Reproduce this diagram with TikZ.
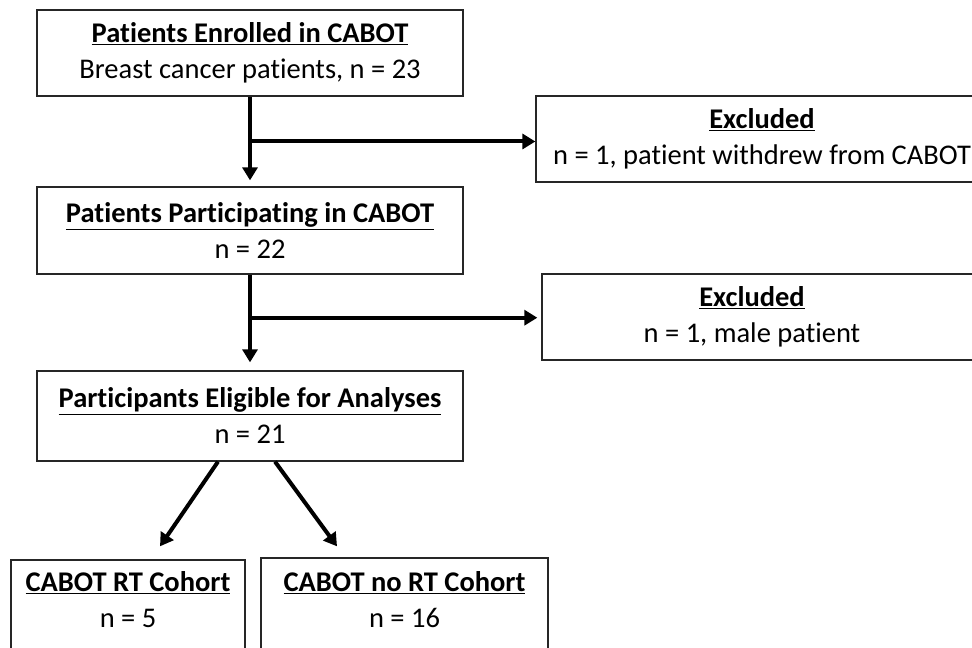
\documentclass[tikz,border=0pt]{standalone}
\usepackage{fontspec}
\setmainfont{Carlito}[Ligatures=NoCommon]
\usepackage{tikz}
\usetikzlibrary{arrows.meta, calc}
\definecolor{boxbd}{HTML}{262626}
\definecolor{flowink}{HTML}{000000}
\tikzset{
  cbox/.style={draw=boxbd, fill=white, line width=1.3pt, align=center, inner sep=0pt,
    font=\fontsize{28.5}{36}\selectfont, text=black},
  flow/.style={-{Triangle[length=13pt, width=15pt]}, draw=flowink, line width=4pt}
}
\newcommand{\boxhead}[1]{\textbf{\underline{#1}}}

\begin{document}
\begin{tikzpicture}[x=1pt, y=1pt]
\useasboundingbox (0,0) rectangle (972,648);
\clip (0,0) rectangle (972,648);
\node[cbox, minimum width=426pt, minimum height=86pt] (enrol) at (250,595) {\boxhead{Patients Enrolled in CABOT}\\Breast cancer patients, n = 23};
\node[cbox, minimum width=452pt, minimum height=86pt] (excl1) at (762,509) {\boxhead{Excluded}\\n = 1, patient withdrew from CABOT};
\node[cbox, minimum width=426pt, minimum height=87pt] (part) at (250,417.5) {\boxhead{Patients Participating in CABOT}\\n = 22};
\node[cbox, minimum width=452pt, minimum height=86pt] (excl2) at (768,331) {\boxhead{Excluded}\hspace*{32pt}\\n = 1, male patient\hspace*{32pt}};
\node[cbox, minimum width=426pt, minimum height=90pt] (elig) at (250,232) {\boxhead{Participants Eligible for Analyses}\\n = 21};
\node[cbox, minimum width=234pt, minimum height=115pt] (rt) at (128,30.5) {\boxhead{CABOT RT Cohort}\\n = 5\\\mbox{}};
\node[cbox, minimum width=287pt, minimum height=119pt] (nort) at (404.5,30.5) {\boxhead{CABOT no RT Cohort}\\n = 16\\\mbox{}};
\coordinate (j1) at ($(enrol.south)!0.5!(part.north)$);
\coordinate (j2) at ($(part.south)!0.45!(elig.north)$);
\draw[flow, shorten >=6pt] (enrol.south) -- (part.north);
\draw[flow] (j1) -- (j1 -| excl1.west);
\draw[flow, shorten >=8pt] (part.south) -- (elig.north);
\draw[flow, shorten >=4pt] (j2) -- (j2 -| excl2.west);
\draw[flow] ($(elig.south)+(-32,0)$) -- ($(rt.north)+(32,13)$);
\draw[flow] ($(elig.south)+(25,0)$) -- ($(nort.north)+(-67.5,11)$);
\end{tikzpicture}
\end{document}
